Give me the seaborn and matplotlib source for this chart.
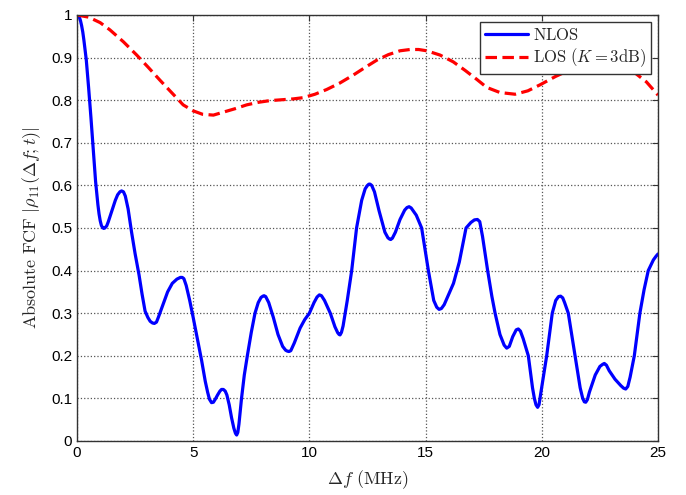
import pandas as pd
import matplotlib
matplotlib.use('Agg')
import matplotlib.pyplot as plt
import seaborn as sns

# Valores (Delta f em MHz, |FCF|)
nlos_x = [0, 0.05, 0.1, 0.15, 0.2, 0.25, 0.3, 0.4, 0.5, 0.6, 0.7, 0.8, 0.9, 0.95, 1.0, 1.05,
          1.1, 1.15, 1.2, 1.28, 1.35, 1.5, 1.65, 1.75, 1.85, 1.92, 2.0, 2.08, 2.2, 2.35, 2.5,
          2.67, 2.8, 2.93, 3.05, 3.15, 3.25, 3.33, 3.42, 3.5, 3.7, 3.9, 4.1, 4.3, 4.45, 4.53,
          4.6, 4.7, 4.85, 5.0, 5.18, 5.36, 5.52, 5.62, 5.7, 5.79, 5.87, 5.95, 6.05, 6.15,
          6.22, 6.3, 6.38, 6.45, 6.55, 6.65, 6.75, 6.82, 6.87, 6.92, 6.97, 7.08, 7.2, 7.33,
          7.5, 7.66, 7.8, 7.92, 8.0, 8.05, 8.12, 8.25, 8.45, 8.65, 8.85, 8.98, 9.05, 9.12,
          9.2, 9.35, 9.6, 9.8, 10.0, 10.2, 10.33, 10.43, 10.52, 10.65, 10.9, 11.1, 11.22,
          11.28, 11.32, 11.38, 11.45, 11.63, 11.82, 12.03, 12.25, 12.4, 12.5, 12.56, 12.61,
          12.68, 12.8, 13.0, 13.25, 13.38, 13.45, 13.5, 13.57, 13.7, 13.9, 14.1, 14.2, 14.29,
          14.38, 14.6, 14.83, 15.12, 15.35, 15.48, 15.58, 15.68, 15.8, 16.0, 16.2, 16.45,
          16.74, 16.95, 17.1, 17.23, 17.33, 17.45, 17.67, 17.85, 17.99, 18.2, 18.38, 18.49,
          18.6, 18.75, 18.9, 18.99, 19.08, 19.2, 19.42, 19.6, 19.68, 19.75, 19.82, 19.88,
          19.95, 20.21, 20.45, 20.6, 20.72, 20.81, 20.9, 20.98, 21.14, 21.43, 21.65, 21.76,
          21.83, 21.89, 21.96, 22.05, 22.3, 22.5, 22.62, 22.69, 22.78, 22.9, 23.15, 23.4,
          23.52, 23.61, 23.7, 23.8, 23.98, 24.22, 24.4, 24.58, 24.8, 24.92, 25.0]
nlos_y = [1.0, 0.999, 0.995, 0.987, 0.975, 0.96, 0.94, 0.895, 0.83, 0.76, 0.685, 0.61, 0.555,
          0.533, 0.517, 0.506, 0.501, 0.499, 0.50, 0.505, 0.515, 0.54, 0.565, 0.578, 0.585,
          0.587, 0.585, 0.575, 0.545, 0.49, 0.44, 0.39, 0.345, 0.305, 0.29, 0.281, 0.277,
          0.276, 0.279, 0.29, 0.32, 0.35, 0.37, 0.38, 0.384, 0.384, 0.381, 0.365, 0.33, 0.29,
          0.24, 0.19, 0.14, 0.115, 0.098, 0.09, 0.091, 0.098, 0.108, 0.117, 0.121, 0.121,
          0.117, 0.108, 0.085, 0.055, 0.03, 0.018, 0.014, 0.02, 0.04, 0.10, 0.155, 0.20,
          0.255, 0.30, 0.325, 0.337, 0.34, 0.341, 0.339, 0.325, 0.29, 0.25, 0.222, 0.213,
          0.211, 0.21, 0.212, 0.23, 0.265, 0.285, 0.30, 0.325, 0.338, 0.343, 0.341, 0.33,
          0.30, 0.268, 0.254, 0.25, 0.249, 0.255, 0.27, 0.33, 0.40, 0.50, 0.565, 0.592,
          0.6, 0.603, 0.603, 0.6, 0.585, 0.54, 0.49, 0.477, 0.474, 0.473, 0.476, 0.49, 0.52,
          0.542, 0.548, 0.55, 0.547, 0.53, 0.50, 0.40, 0.33, 0.314, 0.309, 0.311, 0.32,
          0.345, 0.37, 0.42, 0.50, 0.513, 0.519, 0.52, 0.515, 0.48, 0.40, 0.34, 0.30, 0.25,
          0.225, 0.218, 0.222, 0.245, 0.261, 0.263, 0.258, 0.24, 0.20, 0.125, 0.1, 0.085,
          0.079, 0.085, 0.11, 0.20, 0.30, 0.33, 0.339, 0.34, 0.336, 0.325, 0.30, 0.20, 0.125,
          0.1, 0.092, 0.091, 0.097, 0.115, 0.155, 0.175, 0.18, 0.182, 0.178, 0.165, 0.145,
          0.13, 0.124, 0.122, 0.128, 0.15, 0.20, 0.30, 0.355, 0.40, 0.425, 0.434, 0.439]

los_x = [0, 0.5, 1.0, 1.42, 2.0, 2.57, 3.07, 3.57, 4.07, 4.57, 5.0, 5.4, 5.87, 6.3, 6.8,
         7.3, 7.8, 8.3, 8.8, 9.3, 9.74, 10.24, 10.74, 11.3, 11.89, 12.4, 12.9, 13.4, 13.9,
         14.33, 14.7, 15.05, 15.62, 16.19, 16.7, 17.2, 17.63, 18.2, 18.85, 19.4, 19.92,
         20.6, 21.36, 22.0, 22.6, 23.2, 23.94, 24.5, 25.0]
los_y = [1.0, 0.995, 0.982, 0.965, 0.937, 0.906, 0.877, 0.847, 0.818, 0.789, 0.775, 0.767,
         0.765, 0.772, 0.780, 0.789, 0.795, 0.799, 0.801, 0.803, 0.806, 0.814, 0.825, 0.84,
         0.859, 0.877, 0.894, 0.907, 0.916, 0.919, 0.919, 0.916, 0.906, 0.89, 0.87, 0.849,
         0.83, 0.818, 0.814, 0.822, 0.836, 0.856, 0.875, 0.887, 0.89, 0.885, 0.867, 0.843,
         0.812]

x_ticks = [0, 5, 10, 15, 20, 25]
y_ticks = [0, 0.1, 0.2, 0.3, 0.4, 0.5, 0.6, 0.7, 0.8, 0.9, 1]
y_tick_labels = ['0', '0.1', '0.2', '0.3', '0.4', '0.5', '0.6', '0.7', '0.8', '0.9', '1']

nlos = pd.DataFrame({'df': nlos_x, 'fcf': nlos_y})
los = pd.DataFrame({'df': los_x, 'fcf': los_y})

sns.set_style('white')
plt.rcParams['font.family'] = ['Liberation Sans', 'DejaVu Sans']
plt.rcParams['mathtext.fontset'] = 'cm'

fig = plt.figure(figsize=(6.86, 4.95), dpi=100)
ax = fig.add_axes([0.1122, 0.1091, 0.8470, 0.8606])

sns.lineplot(x='df', y='fcf', data=nlos, ax=ax, color='#0000ff', linewidth=2.3,
             sort=False, estimator=None, label=r'$\mathrm{NLOS}$')
sns.lineplot(x='df', y='fcf', data=los, ax=ax, color='#ff0000', linewidth=2.3,
             sort=False, estimator=None, label=r'$\mathrm{LOS}\ (K = 3\mathrm{dB})$')
ax.lines[0].set_solid_joinstyle('round')
ax.lines[1].set_dashes([3.6, 1.7])

ax.set_xlim(0, 25)
ax.set_ylim(0, 1)
ax.set_xticks(x_ticks)
ax.set_yticks(y_ticks)
ax.set_yticklabels(y_tick_labels)
ax.tick_params(direction='in', length=4, top=True, right=True, labelsize=11,
               color='#333333', labelcolor='black')
ax.grid(True, linestyle=':', color='#555555', linewidth=0.9)
for s in ax.spines.values():
    s.set_color('#333333')
    s.set_linewidth(1.0)

ax.set_xlabel(r'$\Delta f\ (\mathrm{MHz})$', fontsize=13, labelpad=6)
ax.set_ylabel(r'$\mathrm{Absolute\ FCF}\ |\rho_{11}(\Delta f;t)|$', fontsize=13, labelpad=6)

leg = ax.legend(loc='upper right', bbox_to_anchor=(0.988, 0.983), borderaxespad=0,
                fancybox=False, edgecolor='#333333', framealpha=1, fontsize=12,
                handlelength=2.6, borderpad=0.3, labelspacing=0.2, handletextpad=0.3)
leg.get_frame().set_linewidth(1.0)
leg.get_lines()[1].set_dashes([3.6, 1.7])

plt.savefig('out.png', dpi=100)
